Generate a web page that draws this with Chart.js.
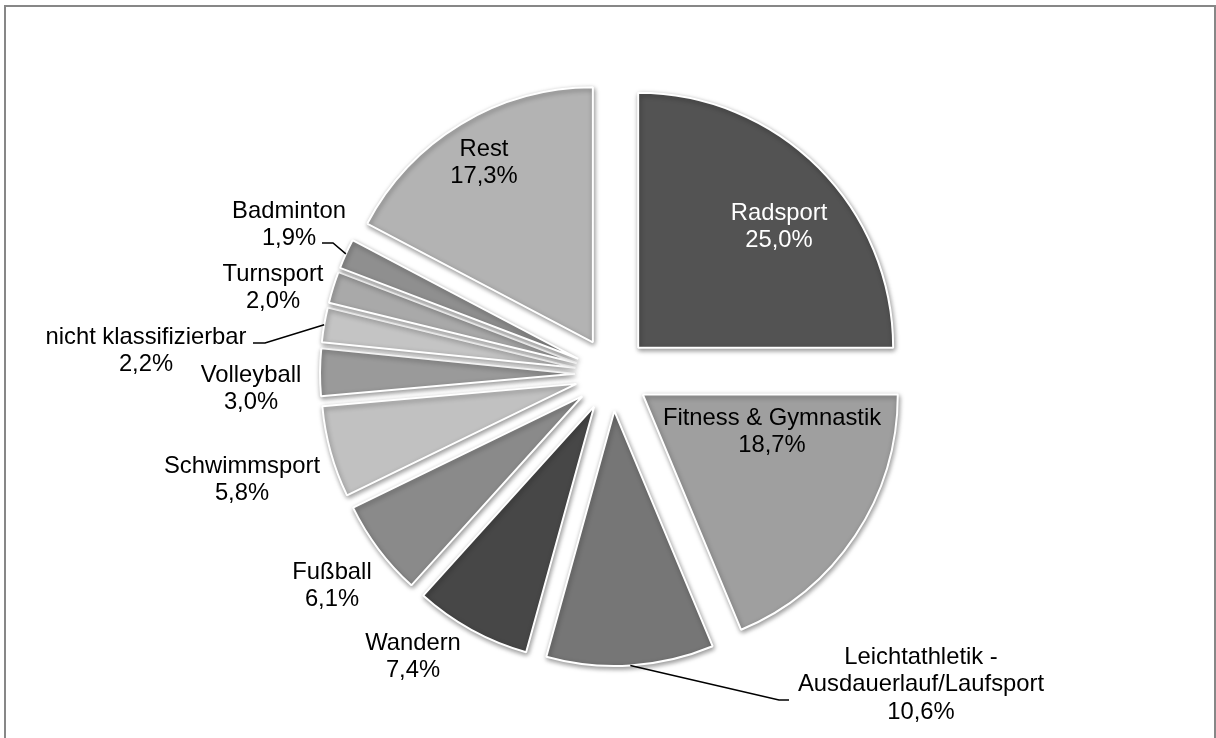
<!DOCTYPE html>
<html lang="de">
<head>
<meta charset="utf-8">
<title>Sportarten</title>
<script src="https://cdn.jsdelivr.net/npm/chart.js@4.4.1/dist/chart.umd.min.js"></script>
<style>
    html, body { margin: 0; padding: 0; background: #fff; overflow: hidden; }
    #rahmen {
        position: absolute; left: 4px; top: 5px;
        width: 1212px; height: 800px;
        box-sizing: border-box;
        border: 2px solid #878787;
    }
    #wrap { position: absolute; left: 0; top: 0; width: 1216px; height: 738px; }
</style>
</head>
<body>
<div id="rahmen"></div>
<div id="wrap"><canvas id="torte"></canvas></div>
<script>
// Daten
const kategorien = ['Radsport', 'Fitness & Gymnastik', ['Leichtathletik -', 'Ausdauerlauf/Laufsport'],
    'Wandern', 'Fußball', 'Schwimmsport', 'Volleyball', 'nicht klassifizierbar',
    'Turnsport', 'Badminton', 'Rest'];
const anteile = [25.0, 18.7, 10.6, 7.4, 6.1, 5.8, 3.0, 2.2, 2.0, 1.9, 17.3];

// Farben der Segmente
const farben = ['#535353', '#9f9f9f', '#767676', '#474747', '#8a8a8a', '#c1c1c1',
    '#9a9a9a', '#c4c4c4', '#a9a9a9', '#8f8f8f', '#b3b3b3'];

// Position der Beschriftungen (Mitte der ersten Zeile), optional Führungslinie
const beschriftung = [
    { x: 779, y: 213, farbe: '#fff' },
    { x: 772, y: 418 },
    { x: 921, y: 657, linie: [[789, 700], [779, 700]] },
    { x: 413, y: 643 },
    { x: 332, y: 572 },
    { x: 242, y: 466 },
    { x: 251, y: 375 },
    { x: 146, y: 337, linie: [[253, 343], [265, 343]] },
    { x: 273, y: 274 },
    { x: 289, y: 211, linie: [[322, 243], [333, 243]] },
    { x: 484, y: 149 }
];

const abstand = 37;      // Explosion der Segmente
const zeilenHoehe = 27.5;
const schrift = '23.8px "Liberation Sans", Arial, sans-serif';

function prozent(v) {
    return v.toFixed(1).replace('.', ',') + '%';
}

// Segmente auseinanderziehen, Schatten und Beschriftungen
const tortenPlugin = {
    id: 'torte',
    beforeDatasetsDraw(chart) {
        const area = chart.chartArea;
        const cx = (area.left + area.right) / 2;
        const cy = (area.top + area.bottom) / 2;
        chart.getDatasetMeta(0).data.forEach(arc => {
            const mitte = (arc.startAngle + arc.endAngle) / 2;
            arc.x = cx + abstand * Math.cos(mitte);
            arc.y = cy + abstand * Math.sin(mitte);
        });
        const ctx = chart.ctx;
        ctx.save();
        ctx.shadowColor = 'rgba(0,0,0,0.4)';
        ctx.shadowBlur = 5;
        ctx.shadowOffsetX = 1;
        ctx.shadowOffsetY = 2;
    },
    afterDatasetsDraw(chart) {
        const ctx = chart.ctx;
        ctx.restore();
        const arcs = chart.getDatasetMeta(0).data;
        const werte = chart.data.datasets[0].data;
        ctx.save();
        ctx.font = schrift;
        ctx.textAlign = 'center';
        ctx.textBaseline = 'middle';
        arcs.forEach((arc, i) => {
            const b = beschriftung[i];
            let zeilen = chart.data.labels[i];
            zeilen = Array.isArray(zeilen) ? zeilen.slice() : [zeilen];
            zeilen.push(prozent(werte[i]));
            ctx.fillStyle = b.farbe || '#000';
            zeilen.forEach((z, k) => ctx.fillText(z, b.x, b.y + k * zeilenHoehe));
            if (b.linie) {
                const mitte = (arc.startAngle + arc.endAngle) / 2;
                const px = arc.x + arc.outerRadius * Math.cos(mitte);
                const py = arc.y + arc.outerRadius * Math.sin(mitte);
                ctx.beginPath();
                ctx.moveTo(b.linie[0][0], b.linie[0][1]);
                for (let k = 1; k < b.linie.length; k++) ctx.lineTo(b.linie[k][0], b.linie[k][1]);
                ctx.lineTo(px, py);
                ctx.strokeStyle = '#000';
                ctx.lineWidth = 1.5;
                ctx.stroke();
            }
        });
        ctx.restore();
    }
};

new Chart(document.getElementById('torte'), {
    type: 'pie',
    data: {
        labels: kategorien,
        datasets: [{
            data: anteile,
            backgroundColor: farben,
            borderColor: '#ffffff',
            borderWidth: 2,
            radius: 255,
            clip: false
        }]
    },
    options: {
        responsive: true,
        maintainAspectRatio: false,
        animation: false,
        events: [],
        layout: { padding: { left: 8, right: 0, top: 10, bottom: 0 } },
        plugins: {
            legend: { display: false },
            tooltip: { enabled: false }
        }
    },
    plugins: [tortenPlugin]
});
</script>
</body>
</html>
